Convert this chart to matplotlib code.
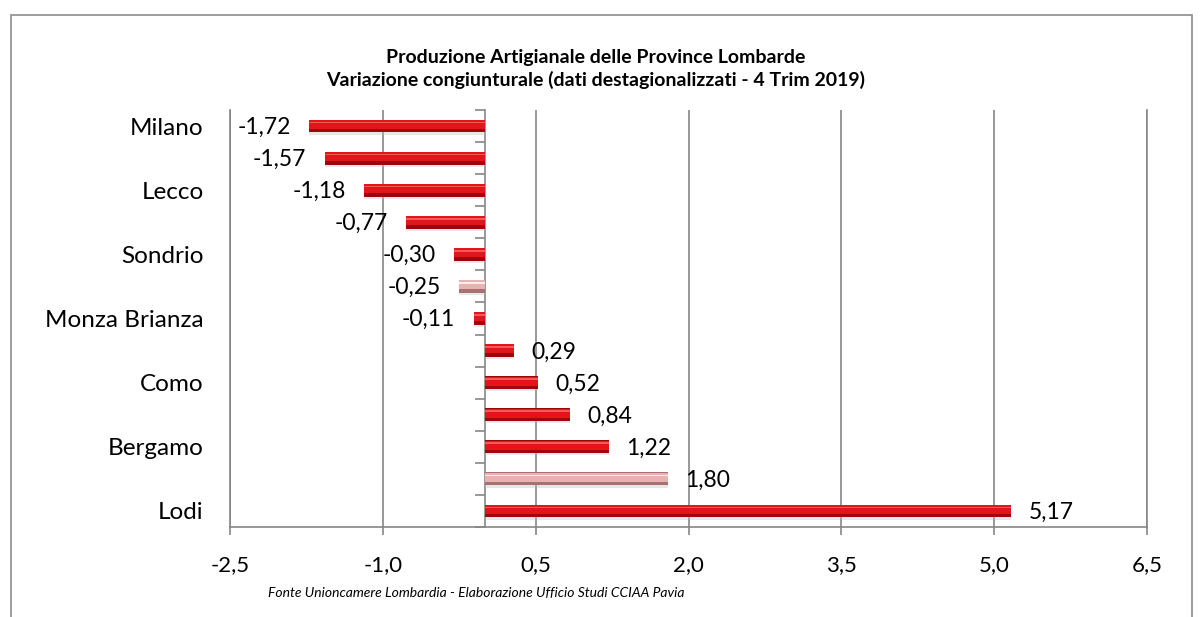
import numpy as np
import matplotlib
matplotlib.use("Agg")
import matplotlib.pyplot as plt
from matplotlib.patches import Rectangle

plt.rcParams["font.family"] = ["Lato", "DejaVu Sans"]

# top to bottom, as in the chart
provinces = ["Milano", "Cremona", "Lecco", "Mantova", "Sondrio", "Lombardia",
             "Monza Brianza", "Varese", "Como", "Brescia", "Bergamo", "Pavia", "Lodi"]
variazione = [-1.72, -1.57, -1.18, -0.77, -0.30, -0.25,
              -0.11, 0.29, 0.52, 0.84, 1.22, 1.80, 5.17]
highlight = ["Lombardia", "Pavia"]
x_ticks = [-2.5, -1.0, 0.5, 2.0, 3.5, 5.0, 6.5]

title = ("Produzione Artigianale delle Province Lombarde\n"
         "Variazione congiunturale (dati destagionalizzati - 4 Trim 2019)")
fonte = "Fonte Unioncamere Lombardia - Elaborazione Ufficio Studi CCIAA Pavia"

# (dark edge, body, highlight)
RED = ("#a0070d", "#e2151d", "#f45a5a")
PINK = ("#a87272", "#e6b3b3", "#fcecec")

fig = plt.figure(figsize=(12.03, 6.17), dpi=100)
ax = fig.add_axes([230 / 1203, 1 - 527 / 617, (1147 - 230) / 1203, (527 - 110) / 617])

# outer frame of the chart area
fig.patches.append(Rectangle((11 / 1203, -0.05), (1192 - 11) / 1203, 1 - 15 / 617 + 0.05,
                             transform=fig.transFigure, fill=False,
                             edgecolor="#8c8c8c", lw=1.2))

n = len(provinces)
ypos = np.arange(n)
vals = np.array(variazione)
palette = [PINK if p in highlight else RED for p in provinces]

# layered bars for the bevelled look (y axis is inverted: minus = up)
ax.barh(ypos + 0.07, vals, height=0.40, color="#bdbdbd", alpha=0.35, zorder=2)
ax.barh(ypos, vals, height=0.40, color=[c[0] for c in palette], zorder=3)
ax.barh(ypos - 0.05, vals, height=0.28, color=[c[1] for c in palette], zorder=4)
ax.barh(ypos - 0.11, vals, height=0.05, color=[c[2] for c in palette], zorder=5)

for y, v in zip(ypos, vals):
    lab = f"{v:.2f}".replace(".", ",")
    if v >= 0:
        ax.text(v + 0.17, y + 0.04, lab, ha="left", va="center", fontsize=16.5, zorder=6)
    else:
        ax.text(v - 0.18, y + 0.04, lab, ha="right", va="center", fontsize=16.5, zorder=6)

ax.set_xlim(-2.5, 6.5)
ax.set_ylim(n - 0.5, -0.5)
ax.set_xticks(x_ticks)
ax.set_xticklabels([f"{t:.1f}".replace(".", ",") for t in x_ticks], fontsize=16)
ax.set_yticks(ypos)
ax.set_yticklabels([p if i % 2 == 0 else "" for i, p in enumerate(provinces)], fontsize=17.5)
ax.tick_params(axis="y", length=0, pad=19)
ax.tick_params(axis="x", length=6, width=1.2, pad=14, color="#868686")

ax.grid(axis="x", color="#868686", lw=1.2, zorder=0)
ax.set_axisbelow(True)
ax.spines["top"].set_visible(False)
for s in ["left", "right", "bottom"]:
    ax.spines[s].set_color("#868686")
    ax.spines[s].set_linewidth(1.2)

# category axis crossing at zero, with tick marks between bars
zero_loc = (0 - x_ticks[0]) / (x_ticks[-1] - x_ticks[0])
sec = ax.secondary_yaxis(zero_loc)
sec.set_yticks(np.arange(n + 1) - 0.5)
sec.set_yticklabels([])
sec.tick_params(length=7, color="#868686", width=1.2)
sec.spines["left"].set_color("#868686")
sec.spines["left"].set_linewidth(1.2)

fig.text(0.4955, 1 - 69 / 617, title, ha="center", va="center", fontsize=14,
         fontweight="bold", linespacing=1.3)
fig.text(0.396, 1 - 593 / 617, fonte, ha="center", va="center", fontsize=10, style="italic")

fig.savefig("out.png", dpi=100)
